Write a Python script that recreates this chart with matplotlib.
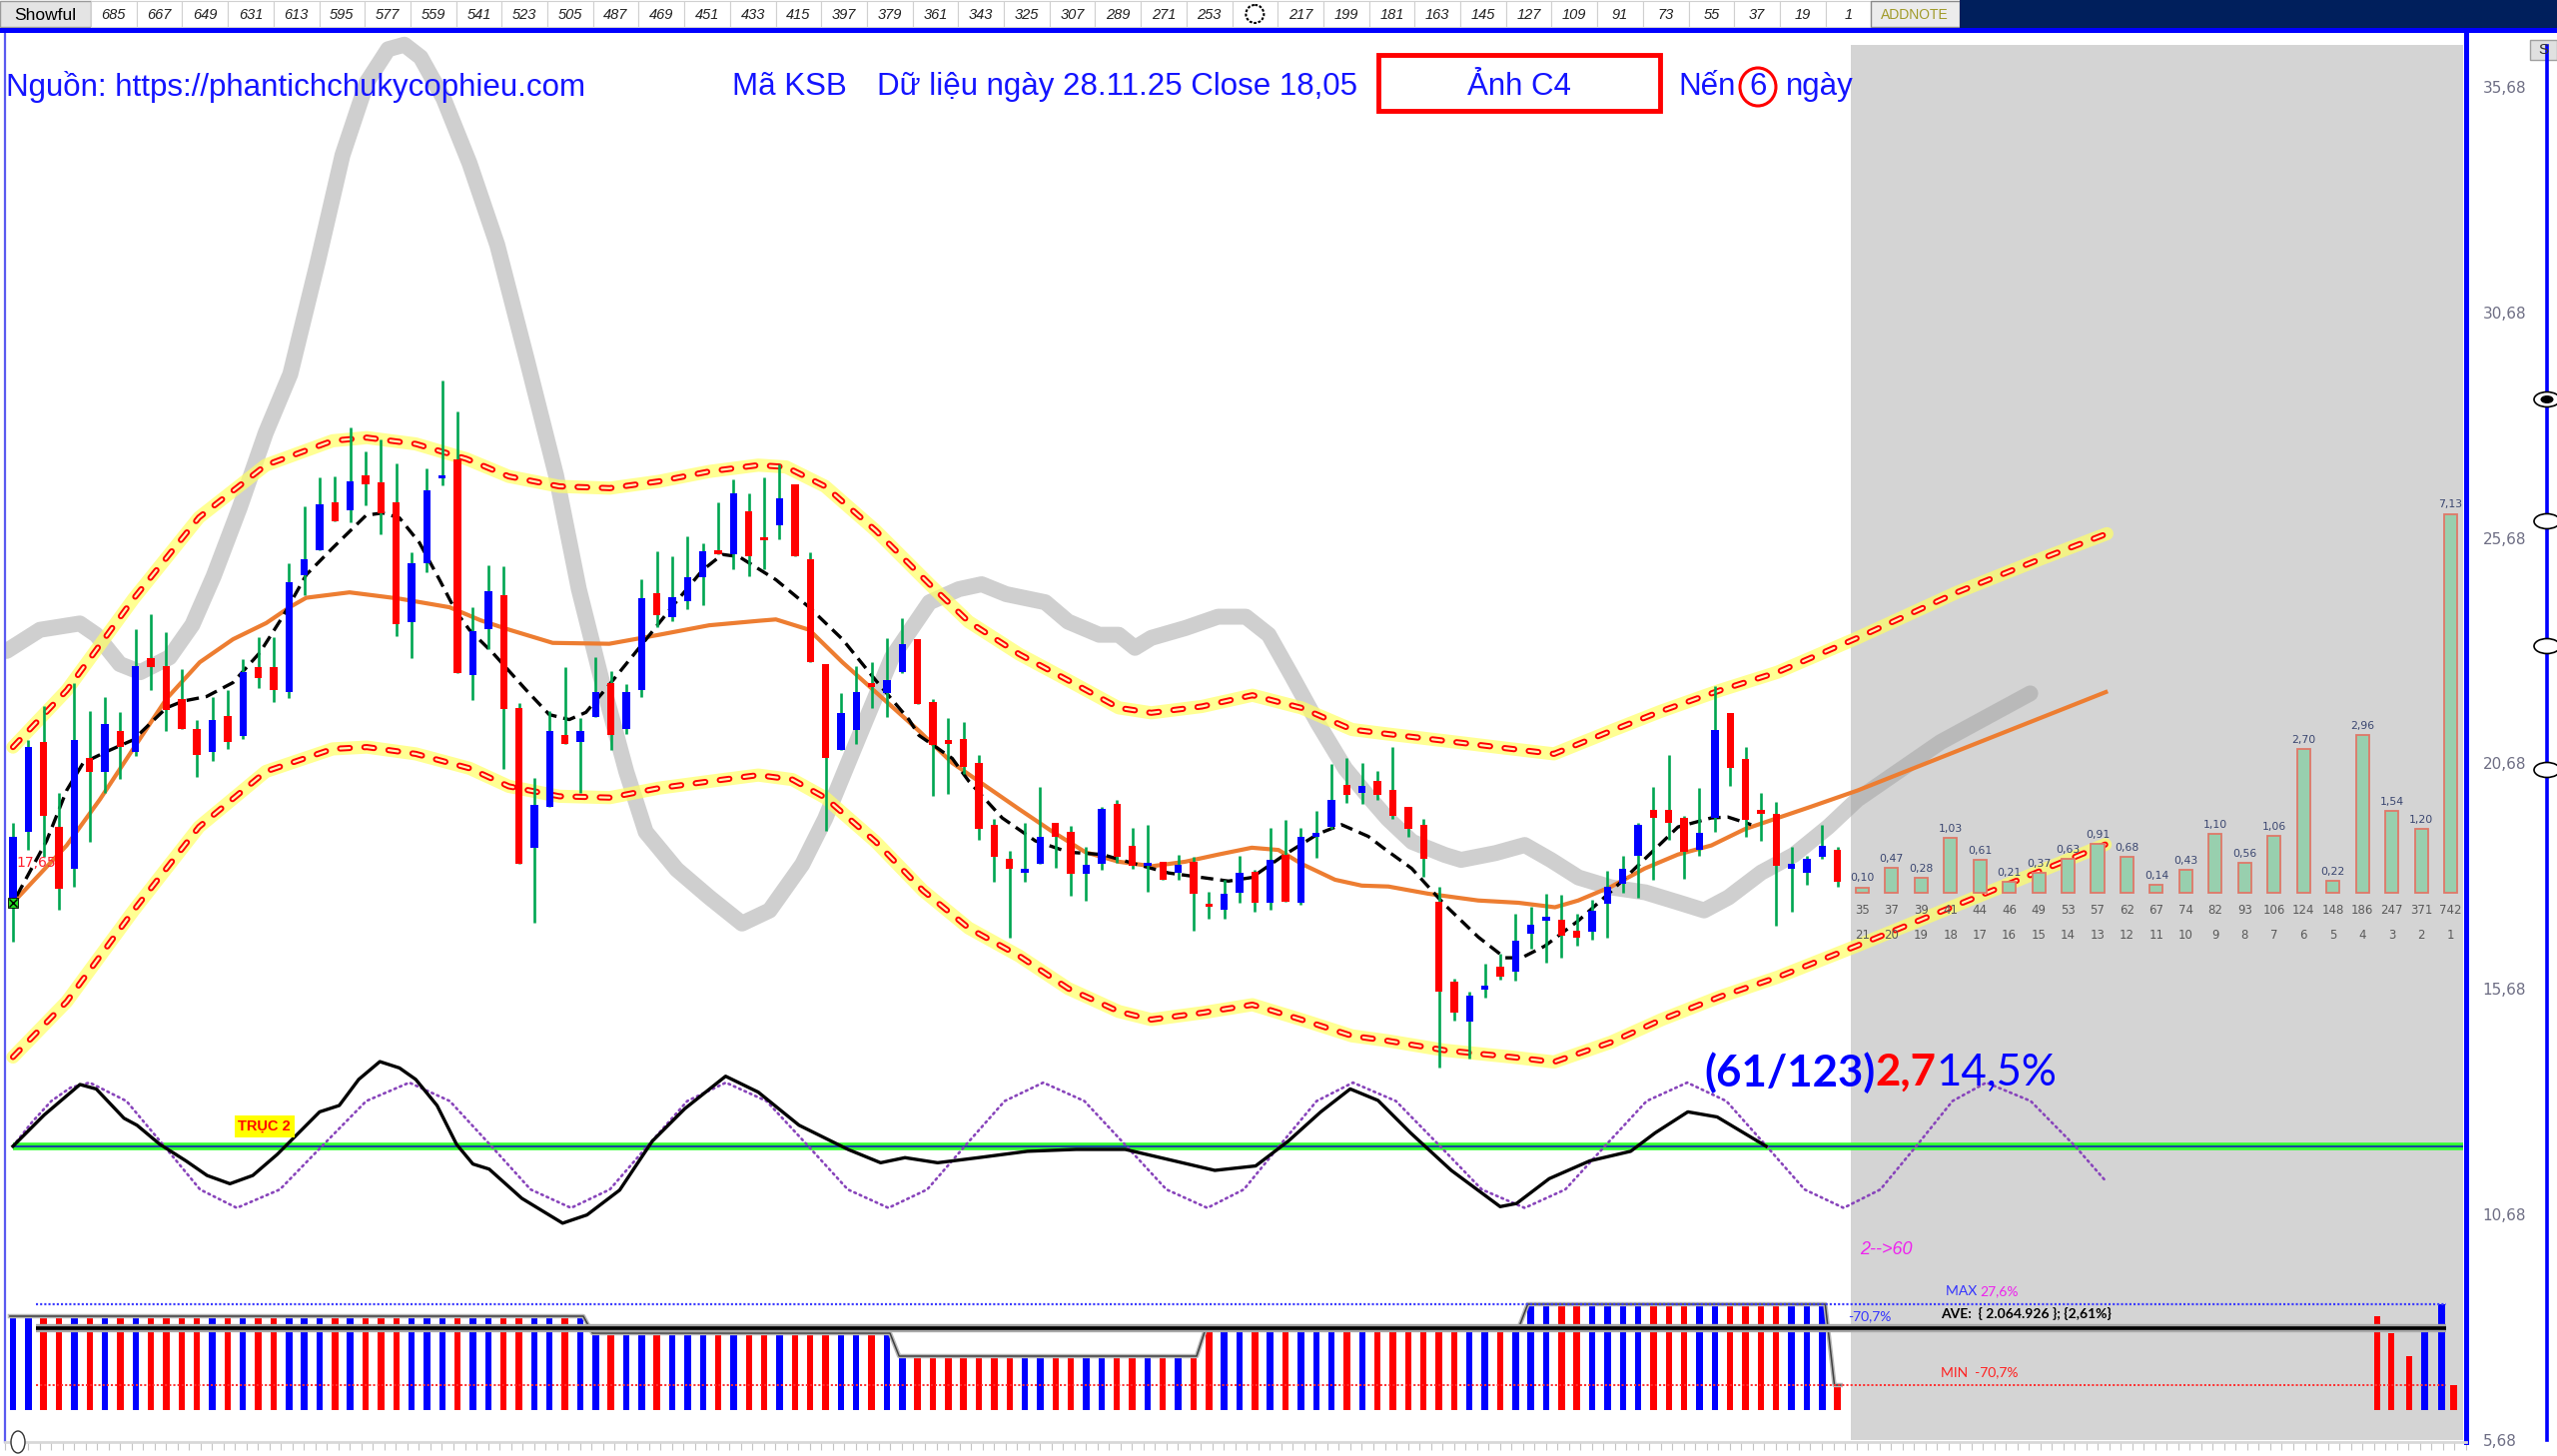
#!/usr/bin/env python3
"""Vẽ lại biểu đồ chu kỳ KSB: nến, kênh giá, dao động và phổ chu kỳ."""

import matplotlib

matplotlib.use("Agg")
import matplotlib.pyplot as plt
import matplotlib.patches as mpatches
import numpy as np

plt.rcParams["lines.scale_dashes"] = False
plt.rcParams["font.family"] = ["Liberation Sans", "DejaVu Sans"]

W, H, DPI = 2560, 1458, 100

BLUE = "#0000FF"
RED = "#FF0000"
WICK = "#00A651"
ORANGE = "#ED7D31"
SHADE = "#D4D4D4"
TEXT_BLUE = "#1414FF"

# ---- nến ngày (giá) ----
OPEN = [17.69, 19.16, 21.15, 19.27, 18.35, 20.79, 20.49, 21.40, 20.94, 23.01,
        22.84, 22.11, 21.45, 20.94, 21.73, 21.28, 22.82, 22.82, 22.26, 24.86,
        25.41, 26.46, 26.28, 27.07, 26.91, 26.46, 23.82, 25.11, 26.99, 27.42,
        22.64, 23.66, 24.40, 21.91, 18.81, 19.72, 21.30, 21.15, 21.71, 22.47,
        21.45, 22.31, 24.45, 23.92, 24.27, 24.80, 25.41, 25.31, 26.26, 25.69,
        25.95, 26.87, 25.21, 22.87, 20.97, 21.42, 22.47, 22.23, 22.70, 23.43,
        22.03, 21.18, 21.22, 20.69, 19.32, 18.56, 18.25, 18.45, 19.37, 19.17,
        18.23, 18.45, 19.78, 18.86, 18.40, 18.50, 18.25, 18.50, 17.57, 17.44,
        17.82, 18.27, 17.59, 18.66, 17.59, 19.06, 19.27, 20.20, 20.03, 20.28,
        20.10, 19.72, 19.32, 17.62, 15.83, 14.95, 15.66, 16.17, 16.07, 16.91,
        17.19, 17.21, 16.98, 16.95, 17.56, 18.00, 18.64, 19.65, 19.65, 19.47,
        18.76, 19.47, 21.79, 20.77, 19.65, 19.57, 18.35, 18.25, 18.61, 18.76]
HIGH = [19.37, 21.20, 21.96, 20.03, 22.47, 21.83, 22.16, 21.81, 23.66, 23.99,
        23.58, 22.77, 21.63, 22.16, 22.31, 22.98, 23.48, 23.48, 25.11, 26.38,
        27.01, 27.04, 28.13, 27.60, 27.85, 27.34, 25.36, 27.21, 29.17, 28.49,
        24.14, 25.08, 25.04, 22.01, 20.36, 21.83, 22.82, 21.68, 23.03, 22.72,
        22.44, 24.77, 25.38, 25.28, 25.72, 25.55, 26.46, 26.97, 26.66, 27.01,
        27.31, 26.87, 25.36, 22.87, 22.23, 22.84, 22.92, 23.45, 23.89, 23.43,
        22.11, 21.68, 21.60, 20.87, 19.45, 18.74, 19.35, 20.16, 19.37, 19.29,
        18.84, 19.72, 19.86, 19.25, 19.32, 18.50, 18.66, 18.61, 17.84, 18.10,
        18.64, 18.33, 19.25, 19.42, 19.25, 19.62, 20.67, 20.79, 20.69, 20.51,
        21.04, 19.72, 19.45, 17.95, 15.91, 15.63, 16.24, 16.47, 17.34, 17.49,
        17.79, 17.76, 17.34, 17.66, 18.30, 18.64, 19.35, 20.16, 20.87, 19.52,
        20.13, 22.40, 21.79, 21.04, 20.03, 19.83, 18.84, 18.64, 19.32, 18.84]
LOW = [16.73, 18.76, 18.61, 17.44, 17.95, 18.94, 20.03, 20.33, 20.84, 22.31,
       21.40, 21.45, 20.38, 20.74, 20.99, 21.22, 22.34, 22.03, 22.13, 24.40,
       25.41, 26.05, 26.02, 26.40, 25.75, 23.51, 23.01, 24.91, 26.84, 22.67,
       22.09, 23.21, 20.56, 18.45, 17.15, 19.72, 21.10, 20.03, 21.71, 20.97,
       21.32, 22.16, 23.69, 23.84, 24.09, 24.19, 25.31, 24.98, 24.83, 24.98,
       25.65, 25.28, 22.92, 19.19, 20.97, 21.10, 21.91, 21.71, 22.67, 21.99,
       19.96, 20.00, 20.44, 18.98, 18.05, 16.81, 18.05, 18.45, 18.37, 17.74,
       17.64, 18.33, 18.47, 18.35, 17.84, 18.10, 18.10, 16.98, 17.23, 17.23,
       17.59, 17.39, 17.44, 17.62, 17.54, 18.58, 19.22, 19.80, 19.78, 19.86,
       19.45, 19.06, 18.17, 13.93, 14.98, 14.14, 15.49, 15.89, 15.86, 16.57,
       16.27, 16.37, 16.63, 16.78, 16.81, 17.82, 17.69, 18.10, 18.98, 18.13,
       18.64, 19.17, 20.18, 19.04, 18.96, 17.08, 17.39, 17.99, 18.56, 17.95]
CLOSE = [19.06, 21.04, 19.52, 17.90, 21.20, 20.49, 21.55, 21.04, 22.84, 22.82,
         21.86, 21.45, 20.87, 21.65, 21.15, 22.70, 22.57, 22.31, 24.70, 25.21,
         26.43, 26.05, 26.94, 26.87, 26.23, 23.76, 25.11, 26.73, 27.06, 22.67,
         23.62, 24.50, 21.89, 18.45, 19.75, 21.40, 21.10, 21.40, 22.26, 21.30,
         22.26, 24.33, 23.96, 24.37, 24.80, 25.38, 25.31, 26.66, 25.28, 25.62,
         26.56, 25.28, 22.92, 20.79, 21.79, 22.26, 22.37, 22.52, 23.33, 21.99,
         21.08, 21.12, 20.59, 19.22, 18.61, 18.35, 18.35, 19.06, 19.06, 18.23,
         18.42, 19.67, 18.61, 18.40, 18.45, 18.10, 18.42, 17.79, 17.49, 17.79,
         18.25, 17.59, 18.54, 17.62, 19.06, 19.13, 19.88, 19.98, 20.18, 19.98,
         19.52, 19.22, 18.56, 15.61, 15.15, 15.53, 15.76, 15.96, 16.75, 17.11,
         17.29, 16.85, 16.81, 17.42, 17.95, 18.35, 19.32, 19.47, 19.35, 18.71,
         19.15, 21.42, 20.57, 19.42, 19.55, 18.40, 18.45, 18.56, 18.86, 18.05]

# ---- các đường phủ: (chỉ số nến, giá) ----
GRAY_PATH = [(-0.42, 23.17), (1.76, 23.64), (4.36, 23.78), (5.43, 23.53), (6.97, 22.88),
             (8.30, 22.70), (10.21, 23.03), (11.70, 23.75), (13.09, 24.83), (14.79, 26.35),
             (16.49, 28.01), (18.09, 29.31), (19.89, 31.81), (21.49, 34.16), (23.08, 35.78),
             (24.47, 36.51), (25.53, 36.61), (26.59, 36.33), (28.08, 35.42), (29.78, 33.98),
             (31.59, 32.17), (33.51, 29.64), (35.42, 27.07), (36.91, 24.54), (38.40, 22.52),
             (40.00, 20.50), (41.27, 19.16), (43.29, 18.33), (45.42, 17.71), (47.55, 17.13),
             (49.35, 17.42), (51.48, 18.44), (52.97, 19.45), (55.20, 21.29), (57.33, 23.03),
             (59.78, 24.25), (61.69, 24.54), (63.18, 24.65), (64.78, 24.43), (67.33, 24.25),
             (68.82, 23.82), (70.84, 23.53), (72.12, 23.53), (73.18, 23.24), (74.24, 23.46),
             (76.48, 23.68), (78.60, 23.93), (80.41, 23.93), (81.90, 23.53), (83.39, 22.63),
             (85.09, 21.58), (86.90, 20.56), (88.39, 19.95), (89.67, 19.45), (91.26, 18.94),
             (93.39, 18.65), (94.45, 18.54), (96.69, 18.69), (98.60, 18.87), (100.30, 18.54),
             (102.11, 18.15), (104.24, 17.93), (106.47, 17.82), (108.60, 17.60), (110.30, 17.42),
             (111.90, 17.71), (114.03, 18.26), (116.15, 18.65), (118.39, 19.27), (120.30, 19.88),
             (125.72, 21.15), (131.57, 22.23)]

UPPER_BAND = [(0.00, 21.04), (3.51, 22.30), (7.87, 24.33), (12.13, 26.13), (16.49, 27.29),
              (20.85, 27.83), (23.08, 27.90), (26.27, 27.76), (29.57, 27.43), (32.34, 27.04),
              (35.63, 26.82), (38.93, 26.78), (42.12, 26.93), (45.42, 27.15), (48.61, 27.29),
              (50.42, 27.25), (52.97, 26.82), (56.27, 25.84), (59.78, 24.65), (62.33, 23.82),
              (65.63, 23.10), (68.82, 22.52), (72.12, 21.91), (74.24, 21.80), (77.54, 21.94),
              (80.84, 22.19), (84.03, 21.91), (87.33, 21.43), (89.67, 21.33), (93.39, 21.18),
              (97.75, 21.00), (100.51, 20.89), (104.24, 21.40), (107.53, 21.84), (111.36, 22.30),
              (115.09, 22.70), (120.30, 23.46), (126.79, 24.47), (132.10, 25.19), (136.57, 25.77)]

LOWER_BAND = [(0.00, 14.17), (3.51, 15.40), (7.87, 17.42), (12.13, 19.27), (16.49, 20.50),
              (20.85, 21.00), (23.08, 21.04), (26.27, 20.89), (29.78, 20.57), (32.34, 20.17),
              (35.63, 19.95), (38.93, 19.92), (42.12, 20.13), (45.42, 20.28), (48.61, 20.42),
              (50.84, 20.32), (52.97, 19.92), (56.27, 18.94), (59.35, 17.86), (62.33, 17.03),
              (65.63, 16.41), (68.82, 15.69), (72.12, 15.18), (74.24, 15.00), (77.54, 15.15),
              (80.84, 15.33), (84.03, 15.00), (87.33, 14.64), (89.67, 14.53), (93.39, 14.32),
              (97.75, 14.17), (100.51, 14.06), (104.24, 14.50), (107.53, 15.00), (111.36, 15.51),
              (115.09, 15.94), (120.30, 16.64), (136.46, 18.88)]

CENTER_LINE = [(0.0, 17.59), (3.5, 18.86), (5.67, 19.88), (7.84, 21.00), (10.01, 22.11),
               (12.18, 22.92), (14.35, 23.43), (16.52, 23.79), (18.04, 24.14), (19.13, 24.35),
               (21.95, 24.47), (25.21, 24.33), (28.47, 24.14), (30.5, 23.85), (32.38, 23.64),
               (35.20, 23.35), (38.89, 23.33), (42.15, 23.53), (45.41, 23.74), (48.67, 23.84),
               (49.76, 23.87), (51.93, 23.64), (54.10, 22.92), (56.27, 22.26), (59.09, 21.40),
               (61.26, 20.69), (63.43, 20.18), (65.60, 19.67), (67.78, 19.17), (69.95, 18.71),
               (72.12, 18.50), (74.29, 18.40), (76.46, 18.50), (78.63, 18.66), (80.80, 18.81),
               (82.54, 18.76), (84.06, 18.45), (86.23, 18.10), (87.97, 17.97), (89.71, 17.95),
               (92.31, 17.79), (95.57, 17.64), (98.18, 17.59), (100.57, 17.49), (102.09, 17.64),
               (104.26, 17.95), (106.43, 18.35), (108.60, 18.66), (110.77, 18.86), (112.94, 19.22),
               (115.11, 19.47), (117.28, 19.72), (120.32, 20.08), (136.5, 22.26)]

FAST_LINE = [(0.24, 17.74), (2.19, 18.96), (3.50, 20.08), (4.58, 20.69), (6.10, 20.94),
             (7.84, 21.20), (10.01, 21.91), (11.10, 22.06), (12.62, 22.16), (14.35, 22.47),
             (16.09, 23.13), (17.61, 23.94), (19.13, 24.86), (20.87, 25.46), (23.04, 26.18),
             (24.12, 26.23), (25.21, 26.12), (26.51, 25.57), (27.82, 24.75), (28.90, 24.04),
             (29.77, 23.64), (31.29, 23.13), (33.46, 22.31), (34.98, 21.76), (36.28, 21.65),
             (37.37, 21.81), (38.89, 22.42), (41.06, 23.33), (43.23, 24.25), (44.97, 24.96),
             (46.27, 25.31), (47.36, 25.26), (49.76, 24.75), (51.93, 24.14), (54.10, 23.43),
             (56.27, 22.52), (58.44, 21.65), (59.09, 21.30), (61.26, 20.79), (62.35, 20.28),
             (64.52, 19.47), (66.69, 18.96), (68.86, 18.71), (71.03, 18.66), (73.20, 18.45),
             (75.37, 18.25), (77.54, 18.15), (79.28, 18.07), (80.80, 18.15), (82.97, 18.66),
             (85.14, 19.12), (86.66, 19.32), (88.40, 19.06), (89.40, 18.80), (91.23, 18.35),
             (93.40, 17.54), (95.57, 16.83), (97.31, 16.37), (98.40, 16.37), (99.91, 16.63),
             (102.09, 17.19), (104.26, 17.85), (106.43, 18.56), (108.60, 19.27), (110.77, 19.47),
             (111.85, 19.49), (112.94, 19.37), (113.37, 19.32)]

# ---- dao động (đơn vị tương đối, 0 = trục xanh) ----
OSC_MAIN = [(0.0, 0.0), (2.03, 0.49), (4.37, 0.97), (5.43, 0.90), (7.24, 0.44), (8.09, 0.33),
            (9.58, 0.03), (11.28, -0.23), (12.66, -0.46), (14.15, -0.59), (15.64, -0.46),
            (17.23, -0.13), (18.72, 0.23), (20.0, 0.54), (21.28, 0.64), (22.55, 1.05),
            (23.93, 1.33), (25.21, 1.23), (26.27, 1.05), (27.66, 0.64), (28.93, 0.03),
            (30.0, -0.28), (31.06, -0.36), (33.19, -0.82), (35.85, -1.21), (37.44, -1.08),
            (39.57, -0.69), (41.70, 0.08), (43.82, 0.59), (46.48, 1.10), (48.61, 0.85),
            (51.27, 0.33), (54.46, -0.05), (56.59, -0.26), (58.18, -0.18), (60.31, -0.26),
            (62.97, -0.18), (66.16, -0.08), (69.35, -0.05), (72.54, -0.05), (75.73, -0.23),
            (78.39, -0.38), (81.05, -0.31), (83.18, 0.08), (85.30, 0.54), (87.22, 0.90),
            (89.03, 0.72), (91.15, 0.21), (93.81, -0.38), (97.00, -0.95), (98.07, -0.90),
            (100.20, -0.51), (102.85, -0.23), (105.51, -0.08), (107.11, 0.21), (109.24, 0.54),
            (111.15, 0.46), (114.34, 0.0)]

OSC_CYCLE = [(0.0, 0.0), (1.25, 0.38), (2.5, 0.71), (3.75, 0.92), (5.0, 1.0), (7.4, 0.71),
             (9.8, 0.02), (12.2, -0.68), (14.6, -0.97), (17.41, -0.68), (20.23, 0.02),
             (23.04, 0.71), (25.85, 1.0), (28.49, 0.71), (31.13, 0.02), (33.76, -0.68),
             (36.4, -0.97), (38.93, -0.68), (41.45, 0.02), (43.98, 0.71), (46.5, 1.0),
             (49.15, 0.71), (51.8, 0.02), (54.45, -0.68), (57.1, -0.97), (59.63, -0.68),
             (62.15, 0.02), (64.68, 0.71), (67.2, 1.0), (69.88, 0.71), (72.55, 0.02),
             (75.23, -0.68), (77.9, -0.97), (80.28, -0.68), (82.65, 0.02), (85.03, 0.71),
             (87.4, 1.0), (90.2, 0.71), (93.0, 0.02), (95.8, -0.68), (98.6, -0.97),
             (101.25, -0.68), (103.9, 0.02), (106.55, 0.71), (109.2, 1.0), (111.75, 0.71),
             (114.3, 0.02), (116.85, -0.68), (119.4, -0.97), (121.8, -0.68), (124.2, 0.02),
             (126.5, 0.71), (128.7, 1.0), (131.6, 0.71), (134.5, 0.0), (136.5, -0.55)]

# ---- phổ chu kỳ trong vùng xám ----
VP_VALUES = [0.10, 0.47, 0.28, 1.03, 0.61, 0.21, 0.37, 0.63, 0.91, 0.68, 0.14,
             0.43, 1.10, 0.56, 1.06, 2.70, 0.22, 2.96, 1.54, 1.20, 7.13]
VP_PERIODS = [35, 37, 39, 41, 44, 46, 49, 53, 57, 62, 67, 74, 82, 93, 106, 124,
              148, 186, 247, 371, 742]
VP_HARMONICS = [21, 20, 19, 18, 17, 16, 15, 14, 13, 12, 11, 10, 9, 8, 7, 6, 5, 4, 3, 2, 1]

# ---- cột đáy: các nhóm mức ----
HIST_GROUP_START = [0, 38, 58, 78, 99, 119]
HIST_GROUP_END = [37, 57, 77, 98, 118, 119]
HIST_GROUP_LEVEL = [94, 77, 54, 82, 106, 25]
HIST_SUMMARY_COLORS = [RED, RED, RED, BLUE, BLUE, RED]
HIST_MAX, HIST_AVE, HIST_MIN = 106, 82, 25

PRICE_TICKS = [5.68, 10.68, 15.68, 20.68, 25.68, 30.68, 35.68]
TOOLBAR_TICKS = [685, 667, 649, 631, 613, 595, 577, 559, 541, 523, 505, 487, 469,
                 451, 433, 415, 397, 379, 361, 343, 325, 307, 289, 271, 253, 235,
                 217, 199, 181, 163, 145, 127, 109, 91, 73, 55, 37, 19, 1]

X_LIM = (-0.52, 160.0)
PLOT_RECT = [5 / W, (H - 1444) / H, 2464 / W, 1411 / H]
HEAD_SIZE = 22.5


def xy(points):
    xs, ys = zip(*points)
    return list(xs), list(ys)


def overlay(fig, ylim):
    ax = fig.add_axes(PLOT_RECT)
    ax.set_xlim(*X_LIM)
    ax.set_ylim(*ylim)
    ax.set_facecolor("none")
    ax.axis("off")
    return ax


def draw_band(ax, points):
    xs, ys = xy(points)
    ax.plot(xs, ys, color="#FFFF66", lw=9.5, alpha=0.7, solid_capstyle="round", zorder=2)
    ax.plot(xs, ys, color=RED, lw=4.4, linestyle=(0, (7.0, 10.5)),
            dash_capstyle="round", zorder=2.1)
    ax.plot(xs, ys, color="#FFF4B8", lw=1.6, linestyle=(0, (7.0, 10.5)),
            dash_capstyle="round", zorder=2.2)


def main():
    fig = plt.figure(figsize=(W / DPI, H / DPI), dpi=DPI)
    fig.patch.set_facecolor("white")

    # --- trục giá chính ---
    ax = fig.add_axes(PLOT_RECT)
    ax.set_xlim(*X_LIM)
    ax.set_ylim(5.636, 36.87)
    ax.set_facecolor("white")
    ax.spines["top"].set_visible(False)
    ax.spines["right"].set_color(BLUE)
    ax.spines["right"].set_linewidth(3.6)
    ax.spines["left"].set_color("#5A5AF0")
    ax.spines["left"].set_linewidth(1.6)
    ax.spines["bottom"].set_color("#D8D8D8")
    ax.spines["bottom"].set_linewidth(2.0)
    ax.yaxis.tick_right()
    ax.set_yticks(PRICE_TICKS)
    ax.set_yticklabels([f"{v:.2f}".replace(".", ",") for v in PRICE_TICKS])
    ax.tick_params(axis="y", length=0, pad=12, labelsize=11, labelcolor="#6E6E84")
    for lab in ax.get_yticklabels():
        lab.set_family("DejaVu Sans")
    ax.set_xticks(np.arange(X_LIM[0], X_LIM[1], 0.75))
    ax.set_xticklabels([])
    ax.tick_params(axis="x", length=6, width=0.8, color="#C4C4C4", direction="out")

    ax.add_patch(mpatches.Rectangle((119.9, 5.68), 39.9, 30.93, facecolor=SHADE,
                                    edgecolor="none", zorder=0.5))

    gx, gy = xy(GRAY_PATH)
    ax.plot(gx, gy, color="#A0A0A0", alpha=0.5, lw=11.5, solid_capstyle="round",
            solid_joinstyle="round", zorder=1)

    draw_band(ax, UPPER_BAND)
    draw_band(ax, LOWER_BAND)

    cx, cy = xy(CENTER_LINE)
    ax.plot(cx, cy, color="#3535C8", lw=1.0, zorder=2.9)
    ax.plot(cx, cy, color=ORANGE, lw=3.0, zorder=3)
    fx, fy = xy(FAST_LINE)
    ax.plot(fx, fy, color="black", lw=2.4, linestyle=(0, (9, 5)), zorder=4)

    x = np.arange(len(CLOSE))
    o = np.array(OPEN)
    c = np.array(CLOSE)
    colors = np.where(c >= o, BLUE, RED)
    ax.vlines(x, LOW, HIGH, color=WICK, lw=1.9, zorder=5)
    ax.bar(x, np.maximum(np.abs(c - o), 0.07), bottom=np.minimum(o, c), width=0.48,
           color=colors, linewidth=0, zorder=6)

    ax.plot(0, CENTER_LINE[0][1], marker="s", ms=7, color="#22DD22", mec="black",
            mew=0.6, zorder=7)
    ax.plot(0, CENTER_LINE[0][1], marker="x", ms=6, color="black", mew=1.0, zorder=7.1)
    ax.text(1.5, 18.48, "17,65", color="#FF2030", fontsize=10, ha="center",
            va="center", zorder=7, family="DejaVu Sans")

    # --- dao động ---
    ax_osc = overlay(fig, (-4.65, 17.50))
    ax_osc.hlines(0, 0, 159.8, color="#33FF33", lw=5.5, zorder=1)
    ax_osc.hlines(0, 0, 159.8, color="#1010C0", lw=1.1, zorder=1.1)
    ox, oy = xy(OSC_CYCLE)
    ax_osc.plot(ox, oy, color="#8844BB", lw=1.9, linestyle=(0, (1.2, 3.0)),
                dash_capstyle="round", zorder=2)
    mx, my = xy(OSC_MAIN)
    ax_osc.plot(mx, my, color="black", lw=2.4, zorder=3)
    ax_osc.text(16.4, 0.31, "TRỤC 2", color=RED, fontsize=10.5, fontweight="bold",
                ha="center", va="center", zorder=4,
                bbox=dict(boxstyle="square,pad=0.25", facecolor="#FFFF00", edgecolor="none"))

    # --- cột đáy ---
    ax_h = overlay(fig, (-32, 1379))
    heights = np.zeros(len(CLOSE))
    for start, end, level in zip(HIST_GROUP_START, HIST_GROUP_END, HIST_GROUP_LEVEL):
        heights[start:end + 1] = level
    ax_h.bar(x, heights, width=0.42, color=colors, linewidth=0, zorder=2)
    step_x, step_y = [], []
    for start, end, level in zip(HIST_GROUP_START, HIST_GROUP_END, HIST_GROUP_LEVEL):
        step_x += [start - 0.2, end + 0.2]
        step_y += [level, level]
    ax_h.plot(step_x, step_y, color="#B8B8B8", lw=3.2, zorder=2.5)
    ax_h.plot(step_x, step_y, color="#404040", lw=1.1, zorder=2.6)
    summary_x = [154.2, 155.1, 156.3, 157.3, 158.4, 159.2]
    ax_h.bar(summary_x, HIST_GROUP_LEVEL, width=0.42, color=HIST_SUMMARY_COLORS,
             linewidth=0, zorder=2)
    ax_h.hlines(HIST_MAX, 1.5, 158.7, color="#3B3BFF", lw=1.6, linestyle=(0, (1.5, 1.5)),
                zorder=3)
    ax_h.hlines(HIST_MIN, 1.5, 158.7, color="#FF3030", lw=1.4, linestyle=(0, (1.5, 1.5)),
                zorder=3)
    ax_h.hlines(HIST_AVE, 1.5, 158.7, color="#A8A8A8", lw=6.0, zorder=3)
    ax_h.hlines(HIST_AVE, 1.5, 158.7, color="black", lw=2.6, zorder=3.1)

    # --- phổ chu kỳ ---
    ax_vp = overlay(fig, (-10.34, 16.18))
    vp_x = [120.6 + 1.92 * i for i in range(len(VP_VALUES))]
    ax_vp.bar(vp_x, VP_VALUES, width=0.85, color="#98CFAE", edgecolor="#E07868",
              linewidth=1.3, zorder=2)
    for bx, val, per, har in zip(vp_x, VP_VALUES, VP_PERIODS, VP_HARMONICS):
        ax_vp.annotate(f"{val:.2f}".replace(".", ","), (bx, val), xytext=(0, 3),
                       textcoords="offset points", ha="center", va="bottom",
                       fontsize=7.8, color="#3A4670", family="DejaVu Sans")
        ax_vp.annotate(str(per), (bx, 0), xytext=(0, -13), textcoords="offset points",
                       ha="center", va="center", fontsize=8.5, color="#5A5A5A",
                       family="DejaVu Sans")
        ax_vp.annotate(str(har), (bx, 0), xytext=(0, -31), textcoords="offset points",
                       ha="center", va="center", fontsize=8.5, color="#5A5A5A",
                       family="DejaVu Sans")

    # --- khung trang trí theo toạ độ điểm ảnh ---
    ch = fig.add_axes([0, 0, 1, 1])
    ch.set_xlim(0, W)
    ch.set_ylim(H, 0)
    ch.set_facecolor("none")
    ch.axis("off")

    ch.add_patch(mpatches.Rectangle((0, 0), W, 28, facecolor="white", edgecolor="none"))
    ch.add_patch(mpatches.Rectangle((0, 1), 91, 26, facecolor="#E4E4E4", edgecolor="#9A9A9A", lw=1))
    ch.text(45, 15, "Showful", fontsize=12.5, ha="center", va="center", color="black")
    cell = 45.7
    for k, val in enumerate(TOOLBAR_TICKS):
        left = 91 + cell * k
        ch.add_patch(mpatches.Rectangle((left, 1), cell, 26, facecolor="white",
                                        edgecolor="#D0D0D0", lw=0.8))
        if val == 235:
            ch.add_patch(mpatches.Ellipse((left + cell / 2, 14), 18, 18, facecolor="none",
                                          edgecolor="black", lw=1.5, linestyle=(0, (2, 1.2))))
        else:
            ch.text(left + cell / 2, 15, str(val), fontsize=10.5, style="italic",
                    ha="center", va="center", color="#222222")
    ch.add_patch(mpatches.Rectangle((1873, 1), 89, 26, facecolor="#ECECEC",
                                    edgecolor="#8A8A8A", lw=1))
    ch.text(1917, 15, "ADDNOTE", fontsize=10, ha="center", va="center", color="#A09A28")
    ch.add_patch(mpatches.Rectangle((1962, 0), W - 1962, 28, facecolor="#001F5C",
                                    edgecolor="none"))
    ch.add_patch(mpatches.Rectangle((0, 28), W, 5, facecolor=BLUE, edgecolor="none"))

    # tiêu đề
    ch.text(6, 87, "Nguồn: https://phantichchukycophieu.com", fontsize=HEAD_SIZE,
            color=TEXT_BLUE, ha="left", va="center")
    ch.text(733, 87, "Mã KSB", fontsize=HEAD_SIZE, color=TEXT_BLUE, ha="left", va="center")
    ch.text(878, 87, "Dữ liệu ngày 28.11.25 Close 18,05", fontsize=HEAD_SIZE,
            color=TEXT_BLUE, ha="left", va="center")
    ch.add_patch(mpatches.Rectangle((1380, 55), 282, 56, facecolor="none",
                                    edgecolor=RED, lw=3.5))
    ch.text(1521, 87, "Ảnh C4", fontsize=HEAD_SIZE, color=TEXT_BLUE, ha="center", va="center")
    ch.text(1680, 87, "Nến", fontsize=HEAD_SIZE, color=TEXT_BLUE, ha="left", va="center")
    ch.add_patch(mpatches.Ellipse((1760, 87), 36, 38, facecolor="none", edgecolor=RED, lw=2.2))
    ch.text(1760, 87, "6", fontsize=HEAD_SIZE, color=TEXT_BLUE, ha="center", va="center")
    ch.text(1788, 87, "ngày", fontsize=HEAD_SIZE, color=TEXT_BLUE, ha="left", va="center")

    renderer = fig.canvas.get_renderer()
    px = 1706
    for text, color, weight in (("(61/123)", BLUE, "bold"), ("2,7", RED, "bold"),
                                ("14,5%", BLUE, "normal")):
        t = ch.text(px, 1074, text, fontsize=31.5, color=color, fontweight=weight,
                    ha="left", va="center", family=["Lato", "DejaVu Sans"])
        px = t.get_window_extent(renderer).x1

    ch.text(1862, 1252, "2-->60", fontsize=13, color="#EE22EE", style="italic",
            ha="left", va="center")

    t = ch.text(1948, 1293, "MAX ", fontsize=10, color="#3333FF", ha="left", va="center",
                family=["Lato", "DejaVu Sans"])
    ch.text(t.get_window_extent(renderer).x1, 1293, "27,6%", fontsize=10, color="#EE22EE",
            ha="left", va="center", family=["Lato", "DejaVu Sans"])
    ch.text(1943, 1315, "AVE:  { 2.064.926 }; {2,61%}", fontsize=10, color="black",
            fontweight="bold", ha="left", va="center", family=["Lato", "DejaVu Sans"])
    ch.text(1850, 1318, "-70,7%", fontsize=10, color="#3333FF", ha="left", va="center",
            family=["Lato", "DejaVu Sans"])
    ch.text(1943, 1374, "MIN  -70,7%", fontsize=10, color="#FF2020", ha="left", va="center",
            family=["Lato", "DejaVu Sans"])

    # viền phải và nút
    ch.plot([2550, 2550], [46, 1442], color=BLUE, lw=2.6)
    for cyy, filled in ((400, True), (522, False), (647, False), (771, False)):
        ch.add_patch(mpatches.Ellipse((2550, cyy), 26, 15, facecolor="white",
                                      edgecolor="black", lw=1.2, zorder=5))
        if filled:
            ch.add_patch(mpatches.Ellipse((2550, cyy), 13, 8, facecolor="black",
                                          edgecolor="none", zorder=6))
    ch.add_patch(mpatches.Rectangle((2533, 40), 27, 20, facecolor="#E0E0E0",
                                    edgecolor="#A0A0A0", lw=1))
    ch.text(2546, 50, "S", fontsize=11, ha="center", va="center", color="#333333")
    ch.add_patch(mpatches.Ellipse((18, 1444), 14, 22, facecolor="white",
                                  edgecolor="#333333", lw=1.0))

    fig.savefig("out.png", dpi=DPI, facecolor="white")
    plt.close(fig)


if __name__ == "__main__":
    main()
